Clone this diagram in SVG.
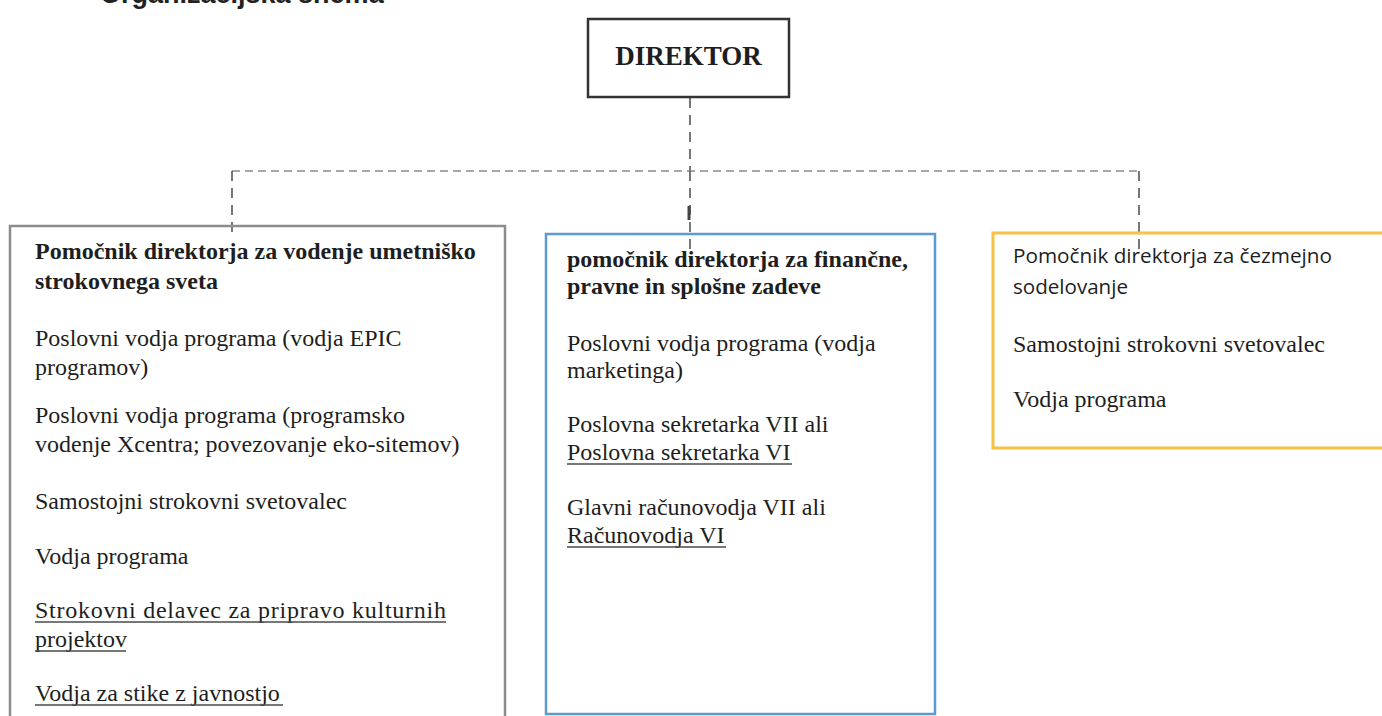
<svg xmlns="http://www.w3.org/2000/svg" width="1382" height="716" viewBox="0 0 1382 716">
<style>
.serif{font-family:"Liberation Serif","Times New Roman",serif;font-size:24px;fill:#1e1e1e}
.bold{font-weight:bold}
.sans{font-family:"Open Sans","Noto Sans","Liberation Sans",sans-serif;font-size:20px;fill:#1e1e1e}
.ul{stroke:#4a4a4a;stroke-width:1.3}
.dash{fill:none;stroke:#8a8a8a;stroke-width:1.6;stroke-dasharray:8 5}
.vdash{fill:none;stroke:#555;stroke-width:1.6;stroke-dasharray:10 7}
</style>
<rect width="1382" height="716" fill="#fff"/>
<text x="100" y="3" font-family="Liberation Sans, Arial, sans-serif" font-weight="bold" font-size="27" fill="#222">Organizacijska shema</text>

<g id="connectors">
  <path class="vdash" d="M690 98 V171"/>
  <path class="dash" d="M232 171 H1139"/>
  <path class="vdash" d="M232 171 V232"/>
  <path class="vdash" d="M690 171 V262"/>
  <path d="M689 206 V220" stroke="#444" stroke-width="3"/>
  <path class="vdash" d="M1139 171 V250"/>
</g>

<g id="direktor">
  <rect x="588" y="19" width="201" height="78" fill="#fff" stroke="#333" stroke-width="2.5"/>
  <text x="688.5" y="65" class="serif bold" text-anchor="middle" style="font-size:27px">DIREKTOR</text>
</g>

<g id="umetnisko">
  <path d="M10 716 V226 H505 V716" fill="none" stroke="#8c8c8c" stroke-width="2.5"/>
  <text class="serif bold" x="35" y="259">Pomočnik direktorja za vodenje umetniško</text>
  <text class="serif bold" x="35" y="289">strokovnega sveta</text>
  <text class="serif" x="35" y="346">Poslovni vodja programa (vodja EPIC</text>
  <text class="serif" x="35" y="375">programov)</text>
  <text class="serif" x="35" y="423">Poslovni vodja programa (programsko</text>
  <text class="serif" x="35" y="452">vodenje Xcentra; povezovanje eko-sitemov)</text>
  <text class="serif" x="35" y="509">Samostojni strokovni svetovalec</text>
  <text class="serif" x="35" y="564">Vodja programa</text>
  <text class="serif" x="35" y="618" textLength="411" lengthAdjust="spacing">Strokovni delavec za pripravo kulturnih</text>
  <line class="ul" x1="35" y1="622" x2="446" y2="622"/>
  <text class="serif" x="35" y="647">projektov</text>
  <line class="ul" x1="35" y1="651" x2="126" y2="651"/>
  <text class="serif" x="35" y="701">Vodja za stike z javnostjo</text>
  <line class="ul" x1="35" y1="705" x2="283" y2="705"/>
</g>

<g id="financne">
  <rect x="546" y="234" width="389" height="480" fill="none" stroke="#5b9bd5" stroke-width="2.5"/>
  <text class="serif bold" x="567" y="267">pomočnik direktorja za finančne,</text>
  <text class="serif bold" x="567" y="294">pravne in splošne zadeve</text>
  <text class="serif" x="567" y="351">Poslovni vodja programa (vodja</text>
  <text class="serif" x="567" y="378">marketinga)</text>
  <text class="serif" x="567" y="432">Poslovna sekretarka VII ali</text>
  <text class="serif" x="567" y="460">Poslovna sekretarka VI</text>
  <line class="ul" x1="567" y1="464" x2="792" y2="464"/>
  <text class="serif" x="567" y="515">Glavni računovodja VII ali</text>
  <text class="serif" x="567" y="543">Računovodja VI</text>
  <line class="ul" x1="567" y1="547" x2="726" y2="547"/>
</g>

<g id="cezmejno">
  <path d="M1384 233 H993 V448 H1384" fill="none" stroke="#f5c242" stroke-width="3"/>
  <text class="sans" x="1013" y="263" textLength="319" lengthAdjust="spacingAndGlyphs">Pomočnik direktorja za čezmejno</text>
  <text class="sans" x="1013" y="294" textLength="115" lengthAdjust="spacingAndGlyphs">sodelovanje</text>
  <text class="serif" x="1013" y="352">Samostojni strokovni svetovalec</text>
  <text class="serif" x="1013" y="407">Vodja programa</text>
</g>
</svg>
